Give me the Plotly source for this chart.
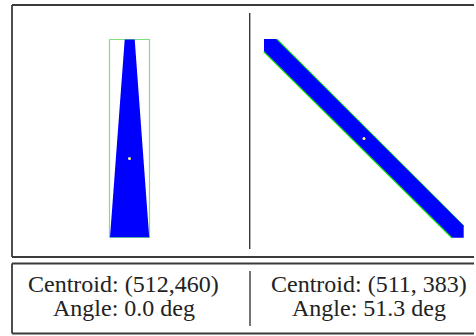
import plotly.graph_objects as go

W, H = 476, 336

# ---- data (pixel coordinates of the rendered panels) ----
# left panel: tapered object and its bounding box
trap_x = [124.7, 134.7, 149.2, 110.0, 124.7]
trap_y = [39.5, 39.5, 237.3, 237.3, 39.5]
bbox_x = [109.5, 149.5, 149.5, 109.5, 109.5]
bbox_y = [39.5, 39.5, 237.5, 237.5, 39.5]

# right panel: diagonal band clipped by its box
band_x = [264.0, 276.0, 463.7, 463.7, 452.7, 264.0, 264.0]
band_y = [39.0, 39.0, 225.7, 237.7, 237.7, 51.0, 39.0]
edge1_x = [276.5, 463.7]
edge1_y = [39.0, 226.2]
edge2_x = [263.8, 452.2]
edge2_y = [51.5, 238.0]

centroid_px_x = [129.5, 364.0]
centroid_px_y = [158.5, 138.5]

label_line1 = ["Centroid: (512,460)", "Centroid: (511, 383)"]
label_line2 = ["Angle: 0.0 deg", "Angle: 51.3 deg"]
label_cx = [123.5, 368.5]

# frames (open on the right, they run off the picture) — drawn as separate segments
frame_segments = [
    ([12, 474], [5, 5]),
    ([12, 12], [5, 257]),
    ([12, 474], [257, 257]),
    ([12, 474], [263.5, 263.5]),
    ([12, 12], [263.5, 333.5]),
    ([12, 474], [333.5, 333.5]),
]
sep_segments = [
    ([249.7, 249.7], [13, 249]),
    ([250, 250], [271, 326]),
]

fig = go.Figure()

frame_col = "#3a3a3a"
for fx, fy in frame_segments:
    fig.add_trace(go.Scatter(x=fx, y=fy, mode="lines",
                             line=dict(color=frame_col, width=1.8),
                             hoverinfo="skip", showlegend=False))
for fx, fy in sep_segments:
    fig.add_trace(go.Scatter(x=fx, y=fy, mode="lines",
                             line=dict(color=frame_col, width=1.4),
                             hoverinfo="skip", showlegend=False))

# left bounding box (green)
fig.add_trace(go.Scatter(x=bbox_x, y=bbox_y, mode="lines",
                         line=dict(color="#7fe07f", width=1.2),
                         hoverinfo="skip", showlegend=False))
# left tapered object
fig.add_trace(go.Scatter(x=trap_x, y=trap_y, mode="lines", fill="toself",
                         fillcolor="#0000ff", line=dict(width=0, color="#0000ff"),
                         hoverinfo="skip", showlegend=False))

# right band edges (green) then fill
for ex, ey in [(edge1_x, edge1_y), (edge2_x, edge2_y)]:
    fig.add_trace(go.Scatter(x=ex, y=ey, mode="lines",
                             line=dict(color="#00e000", width=1.5),
                             hoverinfo="skip", showlegend=False))
fig.add_trace(go.Scatter(x=band_x, y=band_y, mode="lines", fill="toself",
                         fillcolor="#0000ff", line=dict(width=0, color="#0000ff"),
                         hoverinfo="skip", showlegend=False))

# centroids
fig.add_trace(go.Scatter(x=centroid_px_x, y=centroid_px_y, mode="markers",
                         marker=dict(color="#ffff80", size=3, line=dict(width=0)),
                         hoverinfo="skip", showlegend=False))

for cx, t1, t2 in zip(label_cx, label_line1, label_line2):
    fig.add_annotation(x=cx, y=283.5, text=t1, showarrow=False,
                       xanchor="center", yanchor="middle",
                       font=dict(family="Liberation Serif", size=24, color="#222222"))
    fig.add_annotation(x=cx, y=307.5, text=t2, showarrow=False,
                       xanchor="center", yanchor="middle",
                       font=dict(family="Liberation Serif", size=24, color="#222222"))

fig.update_layout(
    width=W, height=H,
    margin=dict(l=0, r=0, t=0, b=0),
    paper_bgcolor="white", plot_bgcolor="white",
    xaxis=dict(range=[0, W], visible=False, fixedrange=True),
    yaxis=dict(range=[H, 0], visible=False, fixedrange=True),
    showlegend=False,
)

fig.write_html("out.html", config=dict(displayModeBar=False))
